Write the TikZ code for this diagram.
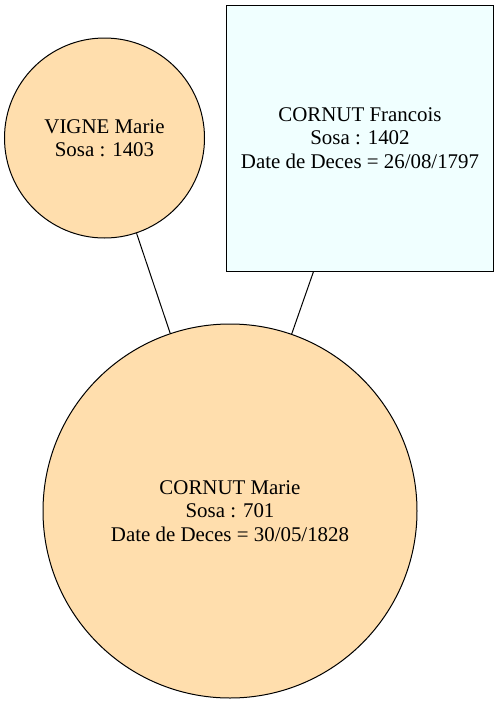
\documentclass[tikz,border=0pt]{standalone}
\usepackage{fontspec}
\setmainfont{Liberation Serif}
\definecolor{navajo}{HTML}{FFDEAD}
\definecolor{azurefill}{HTML}{F0FFFF}
\begin{document}
\begin{tikzpicture}[x=1pt,y=-1pt,
  person/.style={draw=black,line width=1pt,align=center,inner sep=0pt,
    font=\fontsize{20.9}{23.5}\selectfont},
  female/.style={person,circle,fill=navajo},
  male/.style={person,rectangle,fill=azurefill},
  link/.style={draw=black,line width=1pt}]
\useasboundingbox (0,0) rectangle (499,702);
\node[female,minimum size=200pt] (vigne) at (104.5,138) {VIGNE Marie\\Sosa : 1403};
\node[male,minimum width=267pt,minimum height=266pt] (francois) at (360,138) {CORNUT Francois\\Sosa : 1402\\Date de Deces = 26/08/1797};
\node[female,minimum size=374pt] (marie) at (230,511) {CORNUT Marie\\Sosa : 701\\Date de Deces = 30/05/1828};
\draw[link] (vigne) -- (marie);
\draw[link] (francois) -- (marie);
\end{tikzpicture}
\end{document}
